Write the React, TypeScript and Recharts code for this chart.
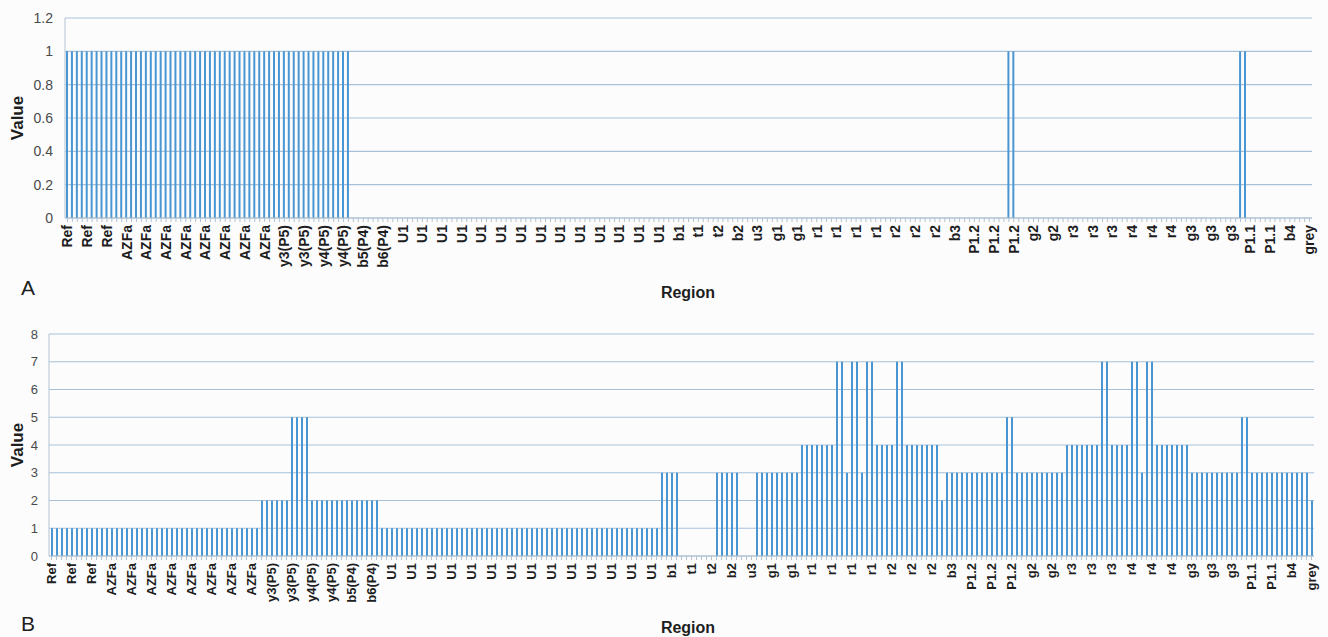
import React from "react";
import { BarChart, Bar, XAxis, YAxis, CartesianGrid } from "recharts";

// Region blocks (category name, number of consecutive samples)
const regionBlocks: [string, number][] = [
  ["Ref", 12], ["AZFa", 30], ["y3(P5)", 10], ["y4(P5)", 6], ["b5(P4)", 4], ["b6(P4)", 4],
  ["U1", 56], ["b1", 4], ["t1", 4], ["t2", 3], ["b2", 5], ["u3", 3], ["g1", 9],
  ["r1", 16], ["r2", 13], ["b3", 4], ["P1.2", 12], ["g2", 8], ["r3", 12], ["r4", 13],
  ["g3", 10], ["P1.1", 8], ["b4", 6], ["grey", 1],
];
const categories: string[] = regionBlocks.flatMap(([n, c]) => Array(c).fill(n));

// Panel A values
const valuesA: number[] = [
  1,1,1,1,1,1,1,1,1,1, 1,1,1,1,1,1,1,1,1,1, 1,1,1,1,1,1,1,1,1,1, 1,1,1,1,1,1,1,1,1,1,
  1,1,1,1,1,1,1,1,1,1, 1,1,1,1,1,1,1,1,0,0, 0,0,0,0,0,0,0,0,0,0, 0,0,0,0,0,0,0,0,0,0,
  0,0,0,0,0,0,0,0,0,0, 0,0,0,0,0,0,0,0,0,0, 0,0,0,0,0,0,0,0,0,0, 0,0,0,0,0,0,0,0,0,0,
  0,0,0,0,0,0,0,0,0,0, 0,0,0,0,0,0,0,0,0,0, 0,0,0,0,0,0,0,0,0,0, 0,0,0,0,0,0,0,0,0,0,
  0,0,0,0,0,0,0,0,0,0, 0,0,0,0,0,0,0,0,0,0, 0,0,0,0,0,0,0,0,0,0, 0,1,1,0,0,0,0,0,0,0,
  0,0,0,0,0,0,0,0,0,0, 0,0,0,0,0,0,0,0,0,0, 0,0,0,0,0,0,0,0,0,0, 0,0,0,0,0,0,0,0,1,1,
  0,0,0,0,0,0,0,0,0,0, 0,0,0,
];

// Panel B values
const valuesB: number[] = [
  1,1,1,1,1,1,1,1,1,1, 1,1,1,1,1,1,1,1,1,1, 1,1,1,1,1,1,1,1,1,1, 1,1,1,1,1,1,1,1,1,1,
  1,1,2,2,2,2,2,2,5,5, 5,5,2,2,2,2,2,2,2,2, 2,2,2,2,2,2,1,1,1,1, 1,1,1,1,1,1,1,1,1,1,
  1,1,1,1,1,1,1,1,1,1, 1,1,1,1,1,1,1,1,1,1, 1,1,1,1,1,1,1,1,1,1, 1,1,1,1,1,1,1,1,1,1,
  1,1,3,3,3,3,0,0,0,0, 0,0,0,3,3,3,3,3,0,0, 0,3,3,3,3,3,3,3,3,3, 4,4,4,4,4,4,4,7,7,3,
  7,7,3,7,7,4,4,4,4,7, 7,4,4,4,4,4,4,4,2,3, 3,3,3,3,3,3,3,3,3,3, 3,5,5,3,3,3,3,3,3,3,
  3,3,3,4,4,4,4,4,4,4, 7,7,4,4,4,4,7,7,3,7, 7,4,4,4,4,4,4,4,3,3, 3,3,3,3,3,3,3,3,5,5,
  3,3,3,3,3,3,3,3,3,3, 3,3,2,
];

const ticksA: number[] = [0, 0.2, 0.4, 0.6, 0.8, 1, 1.2];
const ticksB: number[] = [0, 1, 2, 3, 4, 5, 6, 7, 8];

const data = categories.map((name, i) => ({ name, a: valuesA[i], b: valuesB[i] }));

const FONT = "'Liberation Sans', Arial, Helvetica, sans-serif";
const BAR = "#4a96d2";
const GRID = "#a9c1d8";
const AXIS = "#b3c2d1";

function makeCatTick(fontSize: number) {
  return (props: any) => {
    const { x, y, payload, index } = props;
    if (index % 4 !== 0) return <g />;
    return (
      <text
        x={x}
        y={y}
        transform={`rotate(-90, ${x}, ${y})`}
        textAnchor="end"
        dy="0.35em"
        fontSize={fontSize}
        fontWeight="bold"
        fill="#1e1e1e"
        fontFamily={FONT}
      >
        {payload.value}
      </text>
    );
  };
}

const abs = (left: number, top: number, rotate = false): React.CSSProperties => ({
  position: "absolute",
  left,
  top,
  transform: `translate(-50%, -50%)${rotate ? " rotate(-90deg)" : ""}`,
  whiteSpace: "nowrap",
  lineHeight: 1,
  fontFamily: FONT,
  color: "#1e1e1e",
});

export default function App() {
  return (
    <div style={{ position: "absolute", left: 0, top: 0, width: 1328, height: 637, background: "#fcfcfd", overflow: "hidden", fontFamily: FONT }}>
      <div style={{ position: "absolute", left: 0, top: 0 }}>
        <BarChart width={1328} height={300} data={data} margin={{ top: 18, right: 16, left: 0, bottom: 12 }}>
          <CartesianGrid vertical={false} stroke={GRID} strokeWidth={1.2} />
          <XAxis
            dataKey="name"
            interval={0}
            height={70}
            tickSize={4}
            tickMargin={3}
            tickLine={{ stroke: AXIS }}
            axisLine={{ stroke: AXIS }}
            tick={makeCatTick(14)}
          />
          <YAxis
            width={65}
            domain={[0, 1.2]}
            ticks={ticksA}
            tickLine={false}
            tickSize={0}
            tickMargin={12}
            axisLine={{ stroke: AXIS }}
            tick={{ fontSize: 14, fill: "#4a4a4a", fontFamily: FONT }}
          />
          <Bar dataKey="a" fill={BAR} barSize={2} isAnimationActive={false} />
        </BarChart>
      </div>
      <div style={{ position: "absolute", left: 0, top: 316 }}>
        <BarChart width={1328} height={320} data={data} margin={{ top: 18, right: 14, left: 0, bottom: 10 }}>
          <CartesianGrid vertical={false} stroke={GRID} strokeWidth={1.2} />
          <XAxis
            dataKey="name"
            interval={0}
            height={70}
            tickSize={4}
            tickMargin={3}
            tickLine={{ stroke: AXIS }}
            axisLine={{ stroke: AXIS }}
            tick={makeCatTick(13)}
          />
          <YAxis
            width={49}
            domain={[0, 8]}
            ticks={ticksB}
            tickLine={false}
            tickSize={0}
            tickMargin={11}
            axisLine={{ stroke: AXIS }}
            tick={{ fontSize: 13, fill: "#4a4a4a", fontFamily: FONT }}
          />
          <Bar dataKey="b" fill={BAR} barSize={2} isAnimationActive={false} />
        </BarChart>
      </div>
      <div style={{ ...abs(17, 118, true), fontSize: 17, fontWeight: "bold" }}>Value</div>
      <div style={{ ...abs(17, 445, true), fontSize: 17, fontWeight: "bold" }}>Value</div>
      <div style={{ ...abs(688, 293), fontSize: 16, fontWeight: "bold" }}>Region</div>
      <div style={{ ...abs(688, 628), fontSize: 16, fontWeight: "bold" }}>Region</div>
      <div style={{ ...abs(28, 287), fontSize: 21 }}>A</div>
      <div style={{ ...abs(28, 623), fontSize: 21 }}>B</div>
    </div>
  );
}
